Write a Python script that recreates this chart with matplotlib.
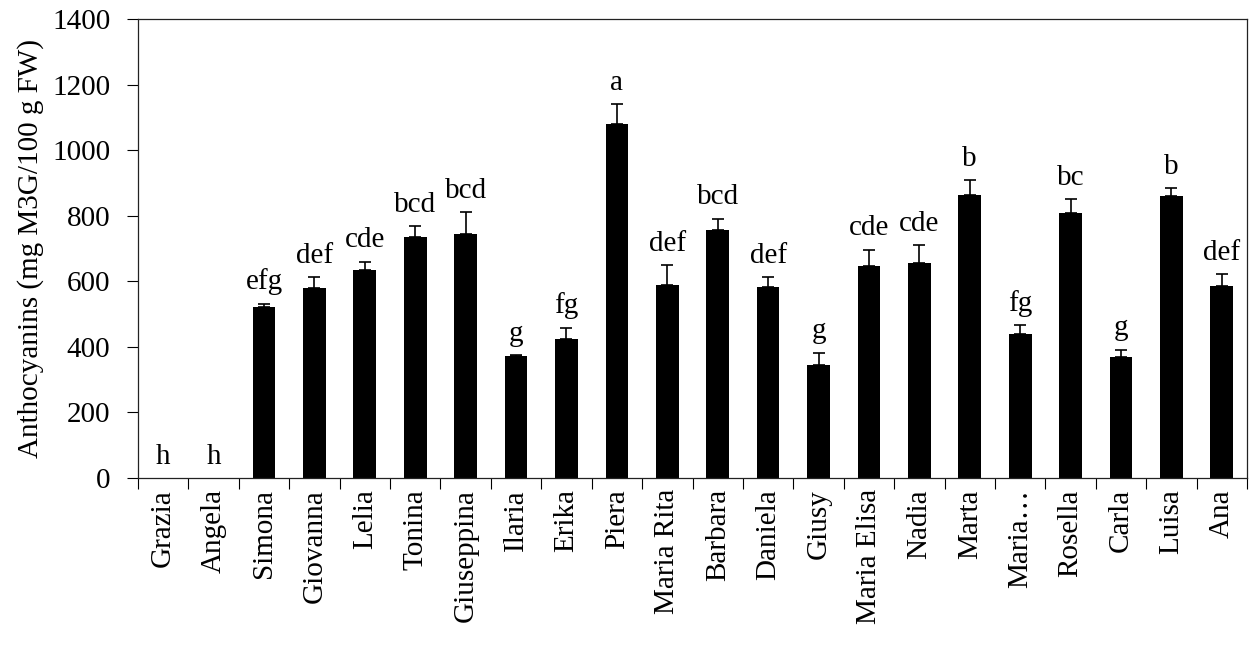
"""Anthocyanin content per genotype, bar chart with upper error bars and letters."""

import matplotlib

matplotlib.use("Agg")
import matplotlib.pyplot as plt
from matplotlib.ticker import FixedLocator

CULTIVARS = [
    "Grazia", "Angela", "Simona", "Giovanna", "Lelia", "Tonina", "Giuseppina",
    "Ilaria", "Erika", "Piera", "Maria Rita", "Barbara", "Daniela", "Giusy",
    "Maria Elisa", "Nadia", "Marta", "Maria…", "Rosella", "Carla", "Luisa", "Ana",
]
ANTHOCYANINS = [
    0, 0, 523, 580, 635, 734, 745,
    371, 424, 1081, 590, 757, 583, 346,
    646, 656, 864, 439, 808, 368, 861, 585,
]
ERRORS = [
    0, 0, 9, 32, 25, 34, 65,
    3, 35, 60, 59, 34, 30, 36,
    50, 54, 44, 28, 43, 23, 24, 37,
]
LETTERS = [
    "h", "h", "efg", "def", "cde", "bcd", "bcd",
    "g", "fg", "a", "def", "bcd", "def", "g",
    "cde", "cde", "b", "fg", "bc", "g", "b", "def",
]


def main():
    plt.rcParams["font.family"] = ["Liberation Serif", "DejaVu Serif"]
    plt.rcParams["font.size"] = 21

    fig = plt.figure(figsize=(12.51, 6.47), dpi=100)
    ax = fig.add_axes([138 / 1251, 1 - 478 / 647, (1247 - 138) / 1251, (478 - 19) / 647])

    x = list(range(len(CULTIVARS)))
    ax.bar(x, ANTHOCYANINS, width=0.45, color="black", zorder=2)

    # error bars only where there is something to show
    ex = [xi for xi, e in zip(x, ERRORS) if e > 0]
    ey = [v for v, e in zip(ANTHOCYANINS, ERRORS) if e > 0]
    ee = [e for e in ERRORS if e > 0]
    ax.errorbar(
        ex,
        ey,
        yerr=[[0] * len(ee), ee],
        fmt="none",
        ecolor="black",
        elinewidth=1.2,
        capsize=4.5,
        capthick=1.2,
        zorder=3,
    )
    for xi, val, err, letter in zip(x, ANTHOCYANINS, ERRORS, LETTERS):
        ax.annotate(
            letter,
            (xi, val + err),
            xytext=(0, 6),
            textcoords="offset points",
            ha="center",
            va="bottom",
            fontsize=21,
        )

    ax.set_xlim(-0.5, len(CULTIVARS) - 0.5)
    ax.set_ylim(0, 1400)
    ax.set_yticks(range(0, 1401, 200))
    ax.set_xticks(x)
    ax.set_xticklabels(CULTIVARS, rotation=90)
    ax.xaxis.set_minor_locator(FixedLocator([i - 0.5 for i in range(len(CULTIVARS) + 1)]))
    ax.tick_params(axis="x", which="major", length=0, pad=8)
    ax.tick_params(axis="x", which="minor", length=8, width=0.8, direction="out")
    ax.tick_params(axis="y", length=8, width=0.8, direction="out", pad=12)
    ax.set_ylabel("Anthocyanins (mg M3G/100 g FW)", fontsize=21, labelpad=6)
    for spine in ax.spines.values():
        spine.set_linewidth(0.9)
        spine.set_color("#222222")

    fig.savefig("out.png", dpi=100)
    plt.close(fig)


if __name__ == "__main__":
    main()
